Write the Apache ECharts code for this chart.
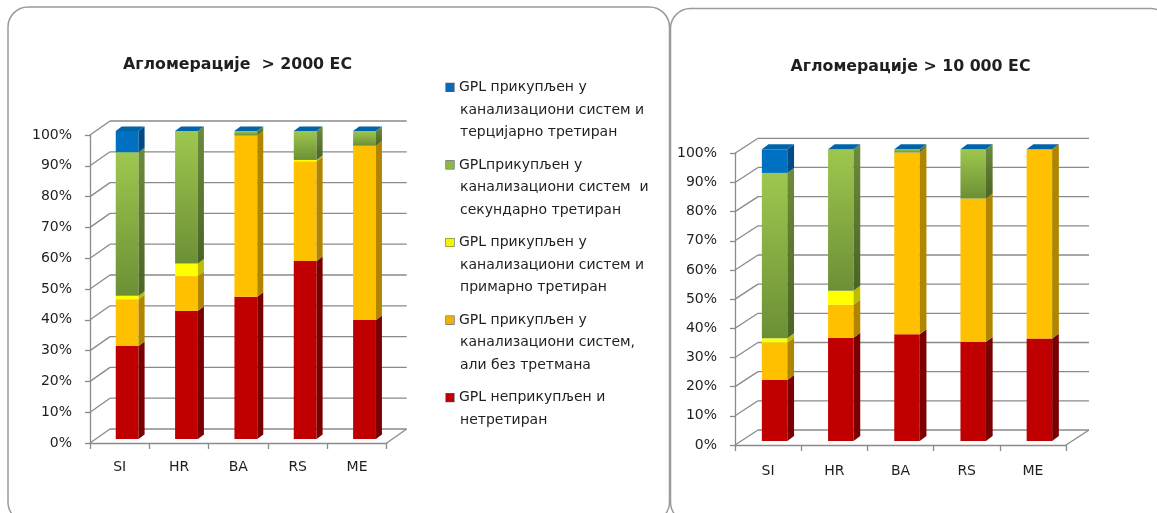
<!DOCTYPE html>
<html>
<head>
<meta charset="utf-8">
<script src="https://cdn.jsdelivr.net/npm/echarts@6/dist/echarts.min.js"></script>
<style>
  html, body { margin: 0; padding: 0; background: #ffffff; }
  #chart { width: 1157px; height: 513px; }
</style>
</head>
<body>
<div id="chart"></div>
<script>
// ---- data (share of generated load, %) ----
const categories = ['SI', 'HR', 'BA', 'RS', 'ME'];
const yTicks = [0, 10, 20, 30, 40, 50, 60, 70, 80, 90, 100];

const titleSmall = 'Агломерације  > 2000 ЕС';
const titleLarge = 'Агломерације > 10 000 ЕС';

// agglomerations > 2000 PE
const untreated2000   = [30.2, 41.6, 46.2, 57.8, 38.6];
const noTreatment2000 = [15.2, 11.3, 52.3, 32.4, 56.6];
const primary2000     = [1.1, 4.1, 0, 0.4, 0];
const secondary2000   = [46.6, 43.0, 1.5, 9.4, 4.8];
const tertiary2000    = [6.9, 0, 0, 0, 0];

// agglomerations > 10 000 PE
const untreated10000   = [20.9, 35.4, 36.6, 33.9, 35.1];
const noTreatment10000 = [12.8, 11.3, 62.3, 49.2, 64.9];
const primary10000     = [1.5, 4.8, 0, 0, 0];
const secondary10000   = [56.7, 48.5, 1.1, 16.9, 0];
const tertiary10000    = [8.1, 0, 0, 0, 0];

// legend text, top entry first
const legendLines = [
  ['GPL прикупљен у', 'канализациони систем и', 'терцијарно третиран'],
  ['GPLприкупљен у', 'канализациони систем  и', 'секундарно третиран'],
  ['GPL прикупљен у', 'канализациони систем и', 'примарно третиран'],
  ['GPL прикупљен у', 'канализациони систем,', 'али без третмана'],
  ['GPL неприкупљен и', 'нетретиран']
];
const seriesNames = legendLines.map(l => l.join(' '));

// ---- styling ----
const FONT = 'DejaVu Sans';
const TEXT = '#1f1f1f';
const GRID_LINE = '#8a8a8a';
const G = echarts.graphic.LinearGradient;

// stacking order: bottom (untreated) to top (tertiary)
const segStyles = [
  { front: '#c00000', side: '#7a0000', top: '#d02020', key: '#c00000' },
  { front: '#ffc000', side: '#b08500', top: '#ffd040', key: '#f0b000' },
  { front: '#ffff00', side: '#bcbc00', top: '#ffff60', key: '#f4f400' },
  { front: new G(0, 0, 0, 1, [{ offset: 0, color: '#9ec74e' }, { offset: 1, color: '#6c8f36' }]),
    side:  new G(0, 0, 0, 1, [{ offset: 0, color: '#6d8b3c' }, { offset: 1, color: '#4a6424' }]),
    top: '#a8cf5c', key: '#8db848' },
  { front: '#0070c0', side: '#004a86', top: '#0064aa', key: '#0a6ab8' }
];
const legendOrder = [4, 3, 2, 1, 0];

const charts = [
  {
    grid: { left: 90, top: 135, width: 296.7, height: 308 },
    shift: [7.5, -4], bar: [6, -4.5], wall: [20, -14], labelMargin: 17,
    sets: [untreated2000, noTreatment2000, primary2000, secondary2000, tertiary2000]
  },
  {
    grid: { left: 735, top: 153.3, width: 331, height: 291.7 },
    shift: [6.5, -4], bar: [6.7, -5], wall: [23, -15], labelMargin: 19,
    sets: [untreated10000, noTreatment10000, primary10000, secondary10000, tertiary10000]
  }
];

function segmentRenderer(ch, s) {
  const st = segStyles[s];
  const last = s === segStyles.length - 1;
  return function (params, api) {
    const i = api.value(0);
    const lo = api.value(1);
    const hi = api.value(2);
    const band = api.size([1, 0])[0];
    const w = band * 0.385;
    const cx = api.coord([i, 0])[0];
    const x0 = cx - w / 2 + ch.shift[0];
    const yb = api.coord([i, lo])[1] + ch.shift[1];
    const yt = api.coord([i, hi])[1] + ch.shift[1];
    const dx = ch.bar[0], dy = ch.bar[1];
    const kids = [];
    if (hi > lo) {
      kids.push({ type: 'rect', shape: { x: x0, y: yt, width: w, height: yb - yt }, style: { fill: st.front } });
      kids.push({ type: 'polygon', shape: { points: [[x0 + w, yb], [x0 + w + dx, yb + dy], [x0 + w + dx, yt + dy], [x0 + w, yt]] }, style: { fill: st.side } });
    }
    if (last) {
      kids.push({ type: 'polygon', shape: { points: [[x0, yt], [x0 + dx, yt + dy], [x0 + w + dx, yt + dy], [x0 + w, yt]] }, style: { fill: st.top } });
    }
    return { type: 'group', children: kids };
  };
}

function frameRenderer(ch) {
  return function (params, api) {
    const v = api.value(1);
    const cs = params.coordSys;
    const y = api.coord([0, v])[1];
    const x0 = cs.x, x1 = cs.x + cs.width;
    const dx = ch.wall[0], dy = ch.wall[1];
    const ls = { stroke: GRID_LINE, lineWidth: 1.3 };
    const kids = [
      { type: 'line', shape: { x1: x0, y1: y, x2: x0 + dx, y2: y + dy }, style: ls },
      { type: 'line', shape: { x1: x0 + dx, y1: y + dy, x2: x1 + dx, y2: y + dy }, style: ls }
    ];
    if (v === 0) {
      kids.push({ type: 'line', shape: { x1: x1, y1: y, x2: x1 + dx, y2: y + dy }, style: ls });
    }
    return { type: 'group', children: kids };
  };
}

const grids = [], xAxes = [], yAxes = [], series = [];
charts.forEach((ch, k) => {
  grids.push(ch.grid);
  xAxes.push({
    type: 'category', gridIndex: k, data: categories, boundaryGap: true,
    axisLine: { show: true, lineStyle: { color: GRID_LINE, width: 1.3 } },
    axisTick: { show: true, length: 6, lineStyle: { color: GRID_LINE, width: 1.3 } },
    axisLabel: { margin: ch.labelMargin, fontFamily: FONT, fontSize: 14, color: TEXT },
    splitLine: { show: false }
  });
  yAxes.push({
    type: 'value', gridIndex: k, min: 0, max: 100, interval: 10,
    axisLine: { show: true, lineStyle: { color: GRID_LINE, width: 1.3 } },
    axisTick: { show: true, length: 5, lineStyle: { color: GRID_LINE, width: 1.3 } },
    axisLabel: { margin: 18, formatter: '{value}%', fontFamily: FONT, fontSize: 14, color: TEXT },
    splitLine: { show: false }
  });
  series.push({
    type: 'custom', name: 'frame' + k, coordinateSystem: 'cartesian2d',
    xAxisIndex: k, yAxisIndex: k, silent: true, z: 1,
    data: yTicks.map(v => [0, v]), encode: { x: 0, y: 1 },
    renderItem: frameRenderer(ch)
  });
  ch.sets.forEach((vals, s) => {
    const data = vals.map((v, i) => {
      let base = 0;
      for (let j = 0; j < s; j++) base += ch.sets[j][i];
      return [i, base, base + v];
    });
    series.push({
      type: 'custom', name: seriesNames[4 - s], coordinateSystem: 'cartesian2d',
      xAxisIndex: k, yAxisIndex: k, z: 2 + s,
      itemStyle: { color: segStyles[s].key },
      data: data, encode: { x: 0, y: [1, 2] },
      renderItem: segmentRenderer(ch, s)
    });
  });
});

// legend entries: coloured key on the first line, continuation lines indented
const rich = { t: { fontFamily: FONT, fontSize: 14, color: TEXT, lineHeight: 22.6 }, g: { width: 5 }, sp: { width: 14 } };
legendOrder.forEach((s, n) => {
  rich['k' + n] = { width: 8, height: 8, backgroundColor: segStyles[s].key, borderColor: '#5a5a5a', borderWidth: 0.6, verticalAlign: 'middle' };
});

const option = {
  animation: false,
  backgroundColor: '#ffffff',
  grid: grids,
  xAxis: xAxes,
  yAxis: yAxes,
  legend: {
    orient: 'vertical', left: 436, top: 71,
    icon: 'none', itemWidth: 0, itemHeight: 0, itemGap: 9.8,
    selectedMode: false,
    data: seriesNames,
    textStyle: { fontFamily: FONT, fontSize: 14, color: TEXT, lineHeight: 22.6, rich: rich },
    formatter: function (name) {
      const n = seriesNames.indexOf(name);
      return legendLines[n].map((line, j) =>
        (j === 0 ? '{k' + n + '|}{g|}' : '{sp|}') + '{t|' + line + '}').join('\n');
    }
  },
  graphic: [
    { type: 'rect', silent: true, z: -1, shape: { x: 8, y: 7, width: 661.5, height: 515, r: 20 }, style: { fill: 'none', stroke: '#9a9a9a', lineWidth: 1.5 } },
    { type: 'rect', silent: true, z: -1, shape: { x: 670.5, y: 8.5, width: 500, height: 513.5, r: 20 }, style: { fill: 'none', stroke: '#9a9a9a', lineWidth: 1.5 } },
    { type: 'text', x: 237.5, y: 64.5, style: { text: titleSmall, fontFamily: FONT, fontSize: 15.8, fontWeight: 'bold', fill: TEXT, textAlign: 'center', textVerticalAlign: 'middle' } },
    { type: 'text', x: 910.5, y: 66.5, style: { text: titleLarge, fontFamily: FONT, fontSize: 15.8, fontWeight: 'bold', fill: TEXT, textAlign: 'center', textVerticalAlign: 'middle' } }
  ],
  series: series
};

const chart = echarts.init(document.getElementById('chart'), null, { renderer: 'canvas' });
chart.setOption(option);
</script>
</body>
</html>
